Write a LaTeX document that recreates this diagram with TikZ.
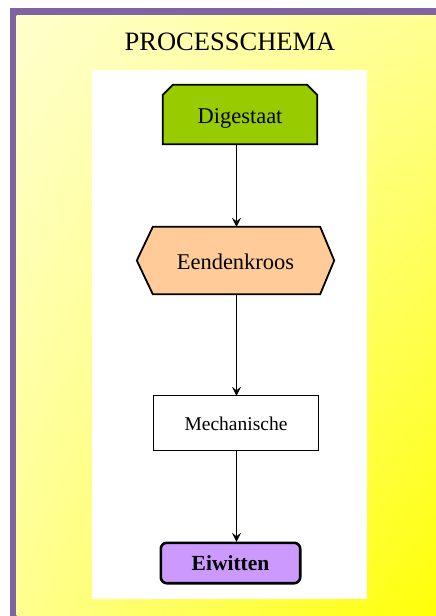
\documentclass[tikz,border=0pt]{standalone}
\usepackage{fontspec}
\setmainfont{Liberation Serif}
\usetikzlibrary{arrows.meta,shadings}
\definecolor{frameviolet}{HTML}{8064A2}
\definecolor{paleyellow}{HTML}{FFFFCC}
\definecolor{midyellow}{HTML}{FFFF90}
\definecolor{deepyellow}{HTML}{FFFF08}
\definecolor{leafgreen}{HTML}{99CC00}
\definecolor{peach}{HTML}{FFCC99}
\definecolor{lilac}{HTML}{CC99FF}
\tikzset{
  holder/.style={rectangle, inner sep=0pt, draw=none},
  outline/.style={draw=black, line width=1.8pt, line join=miter},
  flow/.style={draw=black, line width=1.8pt, -{Stealth[length=9pt,width=9pt,inset=3.5pt]}},
}
\begin{document}
\begin{tikzpicture}[x=1pt,y=-1pt]
  \useasboundingbox (0,0) rectangle (436,616);
  % frame and gradient background
  \fill[white] (0,0) rectangle (436,616);
  \fill[frameviolet] (9.5,8) rectangle (436,616);
  \shade[upper left=paleyellow, upper right=midyellow,
         lower left=midyellow, lower right=deepyellow]
        (16.5,15) rectangle (436,616);
  % white panel behind the flow
  \fill[white] (92,70) rectangle (367,599);

  \node (title) at (230,42) {\fontsize{26.5}{30}\selectfont PROCESSCHEMA};

  % nodes
  \node[holder, minimum width=154pt, minimum height=59pt] (dig) at (240,114.5) {};
  \node[holder, minimum width=197pt, minimum height=67pt] (een) at (235.5,260.5) {};
  \node[holder, minimum width=164pt, minimum height=54pt] (mech) at (236,423) {};
  \node[holder, minimum width=139pt, minimum height=40pt] (eiw) at (230.5,563) {};

  % shapes
  \draw[outline, fill=leafgreen]
    (dig.south west) -- ([yshift=-10pt]dig.north west) -- ([xshift=10pt]dig.north west)
    -- ([xshift=-10pt]dig.north east) -- ([yshift=-10pt]dig.north east) -- (dig.south east) -- cycle;
  \draw[outline, fill=peach]
    (een.west) -- ([xshift=16pt]een.north west) -- ([xshift=-14pt]een.north east)
    -- (een.east) -- ([xshift=-14pt]een.south east) -- ([xshift=16pt]een.south west) -- cycle;
  \draw[draw=black, line width=1.1pt, fill=white] (mech.south west) rectangle (mech.north east);
  \draw[draw=black, line width=2.6pt, fill=lilac, rounded corners=6pt]
    (eiw.south west) rectangle (eiw.north east);

  % labels
  \node at ([yshift=-4pt]dig.center) {\fontsize{22.5}{26}\selectfont Digestaat};
  \node at ([yshift=-1pt]een.center) {\fontsize{22.5}{26}\selectfont Eendenkroos};
  \node at ([yshift=-1pt]mech.center) {\fontsize{19.5}{24}\selectfont Mechanische};
  \node at (eiw.center) {\fontsize{21.5}{26}\selectfont\bfseries Eiwitten};

  % connectors along a common vertical line
  \coordinate (spine) at (236.5,0);
  \draw[flow] (dig.south -| spine) -- (een.north -| spine);
  \draw[flow] (een.south -| spine) -- (mech.north -| spine);
  \draw[flow] (mech.south -| spine) -- ([yshift=1pt]eiw.north -| spine);
\end{tikzpicture}
\end{document}
